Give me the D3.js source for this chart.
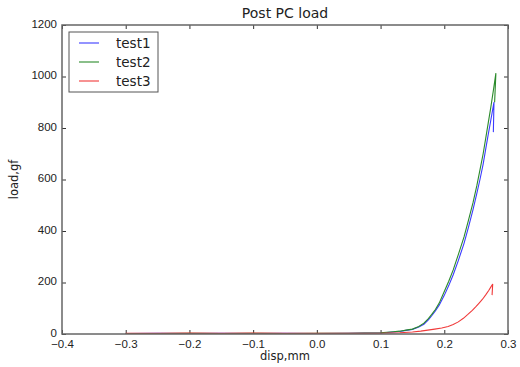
<!DOCTYPE html>
<html>
<head>
<meta charset="utf-8">
<script src="https://cdn.jsdelivr.net/npm/d3@7"></script>
<style>
  body { margin: 0; background: #fff; }
  svg { font-family: "DejaVu Sans", sans-serif; }
</style>
</head>
<body>
<div id="chart"></div>
<script>
// disp (mm) and load (gf)
const test1Disp = [-0.3, -0.25, -0.2, -0.15, -0.1, -0.05, 0.0, 0.05, 0.1, 0.11, 0.12, 0.13, 0.14, 0.15, 0.16, 0.168, 0.175, 0.18, 0.186, 0.192, 0.2, 0.207, 0.214, 0.222, 0.231, 0.238, 0.245, 0.251, 0.256, 0.261, 0.265, 0.269, 0.273, 0.276, 0.278, 0.277];
const test1Load = [2, 3, 2, 3, 2, 3, 2, 3, 5, 6, 8, 10, 14, 18, 27, 38, 55, 70, 90, 112, 150, 188, 230, 285, 352, 415, 482, 545, 600, 660, 718, 775, 830, 872, 901, 784];

const test2Disp = [-0.3, -0.25, -0.2, -0.15, -0.1, -0.05, 0.0, 0.05, 0.1, 0.11, 0.12, 0.13, 0.14, 0.15, 0.16, 0.168, 0.175, 0.18, 0.186, 0.192, 0.2, 0.207, 0.214, 0.222, 0.231, 0.238, 0.245, 0.251, 0.256, 0.261, 0.265, 0.269, 0.273, 0.277, 0.281, 0.279];
const test2Load = [2, 2, 3, 2, 3, 2, 3, 3, 5, 7, 9, 11, 15, 19, 29, 42, 60, 75, 95, 120, 165, 205, 249, 308, 377, 442, 509, 575, 637, 700, 760, 820, 880, 945, 1013, 900];

const test3Disp = [-0.3, -0.25, -0.2, -0.15, -0.1, -0.05, 0.0, 0.05, 0.1, 0.13, 0.15, 0.163, 0.174, 0.185, 0.196, 0.206, 0.214, 0.222, 0.23, 0.237, 0.244, 0.25, 0.255, 0.26, 0.265, 0.27, 0.273, 0.276, 0.275];
const test3Load = [3, 3, 4, 3, 4, 3, 3, 3, 3, 5, 8, 11, 15, 19, 23, 29, 37, 47, 61, 76, 92, 107, 121, 135, 152, 170, 182, 194, 151];

const seriesNames = ["test1", "test2", "test3"];
const seriesColors = ["#3b3bff", "#2a8a2a", "#f03a3a"];
const xTicks = [-0.4, -0.3, -0.2, -0.1, 0.0, 0.1, 0.2, 0.3];
const yTicks = [0, 200, 400, 600, 800, 1000, 1200];

const series = [
    test1Disp.map((d, i) => [d, test1Load[i]]),
    test2Disp.map((d, i) => [d, test2Load[i]]),
    test3Disp.map((d, i) => [d, test3Load[i]])
];

const margin = { top: 25, right: 12, bottom: 33, left: 62 };
const width = 520 - margin.left - margin.right;
const height = 367 - margin.top - margin.bottom;

const svg = d3.select('#chart').append('svg')
    .attr('width', 520)
    .attr('height', 367)
    .append('g')
    .attr('transform', `translate(${margin.left},${margin.top})`);

const x = d3.scaleLinear().domain([-0.4, 0.3]).range([0, width]);
const y = d3.scaleLinear().domain([0, 1200]).range([height, 0]);

const fmtX = d => d3.format('.1f')(d).replace('-', '\u2212');

// axes with inward ticks on all four sides
const axisStyle = g => {
    g.select('.domain').remove();
    g.selectAll('line').attr('stroke', '#333');
    g.selectAll('text').attr('fill', '#222').style('font-size', '11.5px');
};

svg.append('g')
    .attr('transform', `translate(0,${height})`)
    .call(d3.axisBottom(x).tickValues(xTicks).tickFormat(fmtX).tickSizeInner(-4).tickPadding(6))
    .call(axisStyle);

svg.append('g')
    .call(d3.axisTop(x).tickValues(xTicks).tickFormat('').tickSizeInner(-4))
    .call(axisStyle);

svg.append('g')
    .call(d3.axisLeft(y).tickValues(yTicks).tickFormat(d3.format('d')).tickSizeInner(-4).tickPadding(5))
    .call(axisStyle)
    .selectAll('text')
    .attr('dy', '0.2em');

svg.append('g')
    .attr('transform', `translate(${width},0)`)
    .call(d3.axisRight(y).tickValues(yTicks).tickFormat('').tickSizeInner(-4))
    .call(axisStyle);

const line = d3.line()
    .x(d => x(d[0]))
    .y(d => y(d[1]));

svg.selectAll('path.series')
    .data(series)
    .enter()
    .append('path')
    .attr('class', 'series')
    .attr('fill', 'none')
    .attr('stroke', (d, i) => seriesColors[i])
    .attr('stroke-width', 1.1)
    .attr('d', line);

// frame
svg.append('rect')
    .attr('width', width)
    .attr('height', height)
    .attr('fill', 'none')
    .attr('stroke', '#666')
    .attr('stroke-width', 1.5);

// legend
const legend = svg.append('g').attr('transform', 'translate(7,7)');
legend.append('rect')
    .attr('width', 89)
    .attr('height', 60)
    .attr('fill', '#fff')
    .attr('stroke', '#555')
    .attr('stroke-width', 1);

seriesNames.forEach((name, i) => {
    const row = legend.append('g').attr('transform', `translate(0,${11 + i * 19})`);
    row.append('line')
        .attr('x1', 10).attr('x2', 30)
        .attr('stroke', seriesColors[i])
        .attr('stroke-width', 1.1);
    row.append('text')
        .attr('x', 47)
        .attr('dy', '0.35em')
        .style('font-size', '13.5px')
        .attr('fill', '#222')
        .text(name);
});

svg.append('text')
    .attr('x', width / 2)
    .attr('y', -7)
    .attr('text-anchor', 'middle')
    .style('font-size', '14px')
    .attr('fill', '#222')
    .text('Post PC load');

svg.append('text')
    .attr('x', width / 2)
    .attr('y', height + 26)
    .attr('text-anchor', 'middle')
    .style('font-size', '11.5px')
    .attr('fill', '#222')
    .text('disp,mm');

svg.append('text')
    .attr('transform', 'rotate(-90)')
    .attr('x', -height / 2)
    .attr('y', -44)
    .attr('text-anchor', 'middle')
    .style('font-size', '11.5px')
    .attr('fill', '#222')
    .text('load,gf');
</script>
</body>
</html>
